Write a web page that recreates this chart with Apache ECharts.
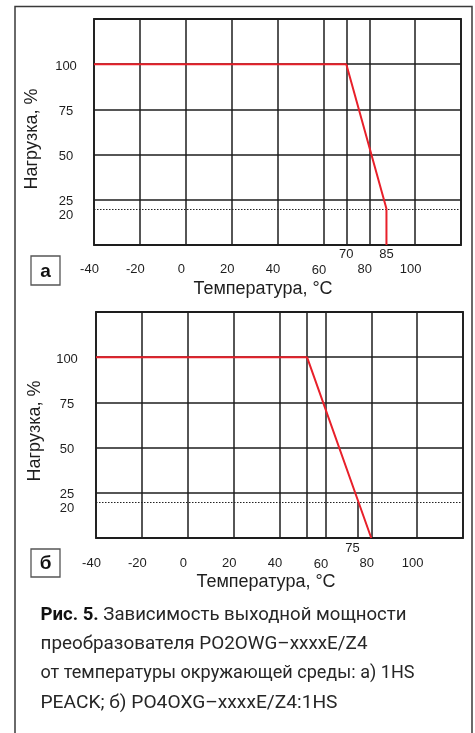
<!DOCTYPE html>
<html><head><meta charset="utf-8">
<script src="https://cdn.jsdelivr.net/npm/echarts@6/dist/echarts.min.js"></script>
<style>html,body{margin:0;padding:0;background:#fff}#c{width:475px;height:733px}</style>
</head><body><div id="c"></div>
<script>
// ---- data ----
const tempTicks = [-40, -20, 0, 20, 40, 60, 80, 100];
const loadTicks = [20, 25, 50, 75, 100];
const curveA_T = [-40, 70, 87.5, 87.5];
const curveA_L = [100, 100, 20, 0];
const curveB_T = [-40, 52, 80];
const curveB_L = [100, 100, 0];
const extraGridA = [70];
const extraGridB = [52];
const noteA_T = [70, 87.5];
const noteA_text = ['70', '85'];
const noteB_T = [74];
const noteB_text = ['75'];
const derateLevel = 20;
const xTitle = 'Температура, °C';
const yTitle = 'Нагрузка, %';
const panelLetters = ['а', 'б'];
const captionBold = 'Рис. 5.';
const captionLines = [
  ' Зависимость выходной мощности',
  'преобразователя PO2OWG–xxxxE/Z4',
  'от температуры окружающей среды: а) 1HS',
  'PEACK; б) PO4OXG–xxxxE/Z4:1HS'
];

// ---- chart ----
const FONT = 'Liberation Sans, Arial, sans-serif';
const INK = '#1e1e1e';
const chart = echarts.init(document.getElementById('c'), null, {renderer: 'canvas'});

function pairs(xs, ys) { return xs.map((x, i) => [x, ys[i]]); }

function mainX(gi, margin) {
  return {
    gridIndex: gi, type: 'value', position: 'bottom', min: -40, max: 120, interval: 20,
    axisLine: {show: false}, axisTick: {show: false},
    splitLine: {show: true, lineStyle: {color: INK, width: 1.5}},
    axisLabel: {
      customValues: tempTicks, margin: margin, fontFamily: FONT, fontSize: 13, color: INK, hideOverlap: false,
      formatter: v => (v === 60 ? '{s|60}' : '{a|' + v + '}'),
      rich: {a: {padding: [0, 9, 0, 0]}, s: {padding: [1, 9, 0, 0]}}
    }
  };
}
function noteX(gi, vals, texts, margin, shift) {
  return {
    gridIndex: gi, type: 'value', position: 'bottom', min: -40, max: 120,
    axisLine: {show: false}, axisTick: {show: false}, splitLine: {show: false},
    axisLabel: {
      customValues: vals, margin: margin, fontFamily: FONT, fontSize: 13, color: INK, hideOverlap: false,
      formatter: v => '{a|' + texts[vals.indexOf(v)] + '}',
      rich: {a: {padding: [0, shift, 0, 0]}}
    }
  };
}
function yAx(gi, margin, vals, padTop, grid) {
  return {
    gridIndex: gi, type: 'value', position: 'left', offset: 0, min: 0, max: 125, interval: 25,
    axisLine: {show: false}, axisTick: {show: false},
    splitLine: {show: grid, lineStyle: {color: INK, width: 1.5}},
    axisLabel: {
      customValues: vals, margin: margin, align: 'center', fontFamily: FONT, fontSize: 13, color: INK, hideOverlap: false,
      formatter: v => '{n|' + v + '}',
      rich: {n: {padding: [padTop, 0, 0, 0]}}
    }
  };
}
function gridSeries(xi, yi, extra, partial) {
  const data = extra.map(v => ({xAxis: v, lineStyle: {color: INK, width: 1.5, type: 'solid'}}));
  data.push({yAxis: derateLevel, lineStyle: {color: '#222', width: 1, type: [1.5, 1.5]}});
  partial.forEach(v => data.push([{coord: [v, 0]}, {coord: [v, derateLevel]}]));
  return {
    type: 'line', xAxisIndex: xi, yAxisIndex: yi, data: [], z: 1, silent: true,
    markLine: {symbol: 'none', silent: true, label: {show: false}, animation: false,
      lineStyle: {color: INK, width: 1.5, type: 'solid'}, data: data}
  };
}
function curve(xi, yi, xs, ys) {
  return {type: 'line', xAxisIndex: xi, yAxisIndex: yi, data: pairs(xs, ys), z: 5,
    symbol: 'none', silent: true, lineStyle: {color: '#e8202a', width: 2}};
}

// caption scaling (condensed look)
const mctx = document.createElement('canvas').getContext('2d');
function tw(t, f) { mctx.font = f; return mctx.measureText(t).width; }
const CF = '17.5px Roboto';
const CFB = 'bold 17.5px Roboto';
const capTarget = [366, 327, 374, 297];
const capW = [tw(captionBold, CFB) + tw(captionLines[0], CF), tw(captionLines[1], CF), tw(captionLines[2], CF), tw(captionLines[3], CF)];
const capY = [616, 644.5, 674, 703.5];
const capGraphics = captionLines.map((t, i) => ({
  type: 'text', x: 40.5, y: capY[i], scaleX: capTarget[i] / capW[i],
  style: {
    text: i === 0 ? '{b|' + captionBold + '}' + t : t,
    font: CF, fill: '#262626', align: 'left', verticalAlign: 'middle',
    rich: {b: {font: CFB, fill: '#111'}}
  }
}));

function panelBox(y, h, letter) {
  return [
    {type: 'rect', shape: {x: 31, y: y, width: 29, height: h}, style: {fill: '#fff', stroke: '#555', lineWidth: 1.3}},
    {type: 'text', x: 45.5, y: y + h / 2 + 1, style: {text: letter, font: 'bold 19px ' + FONT, fill: '#111', align: 'center', verticalAlign: 'middle'}}
  ];
}

const mainLoad = loadTicks.filter(v => v !== derateLevel);
const derateTick = loadTicks.filter(v => v === derateLevel);

const option = {
  animation: false,
  backgroundColor: '#fff',
  grid: [
    {left: 94, top: 19, width: 367, height: 226, show: true, borderColor: INK, borderWidth: 1.8, backgroundColor: 'transparent', outerBoundsMode: 'none'},
    {left: 96, top: 312, width: 367, height: 226, show: true, borderColor: INK, borderWidth: 1.8, backgroundColor: 'transparent', outerBoundsMode: 'none'}
  ],
  xAxis: [mainX(0, 18), noteX(0, noteA_T, noteA_text, 3, 0), mainX(1, 19), noteX(1, noteB_T, noteB_text, 3.5, 10)],
  yAxis: [yAx(0, 28, mainLoad, 4, true), yAx(1, 29, mainLoad, 4, true), yAx(0, 28, derateTick, 14, false), yAx(1, 29, derateTick, 14, false)],
  series: [
    gridSeries(0, 0, extraGridA, []),
    curve(0, 0, curveA_T, curveA_L),
    gridSeries(2, 1, extraGridB, noteB_T),
    curve(2, 1, curveB_T, curveB_L)
  ],
  graphic: [
    {type: 'rect', shape: {x: 15, y: 6.5, width: 457, height: 800}, style: {fill: 'none', stroke: '#3a3a3a', lineWidth: 1.5}, silent: true},
    ...panelBox(256, 29, panelLetters[0]),
    ...panelBox(549, 28, panelLetters[1]),
    {type: 'text', x: 263, y: 289, style: {text: xTitle, font: '18px ' + FONT, fill: INK, align: 'center', verticalAlign: 'middle'}},
    {type: 'text', x: 266, y: 582, style: {text: xTitle, font: '18px ' + FONT, fill: INK, align: 'center', verticalAlign: 'middle'}},
    {type: 'text', x: 32.5, y: 139, rotation: Math.PI / 2, style: {text: yTitle, font: '18px ' + FONT, fill: INK, align: 'center', verticalAlign: 'middle'}},
    {type: 'text', x: 35, y: 431, rotation: Math.PI / 2, style: {text: yTitle, font: '18px ' + FONT, fill: INK, align: 'center', verticalAlign: 'middle'}},
    ...capGraphics
  ]
};
chart.setOption(option);
</script>
</body></html>
